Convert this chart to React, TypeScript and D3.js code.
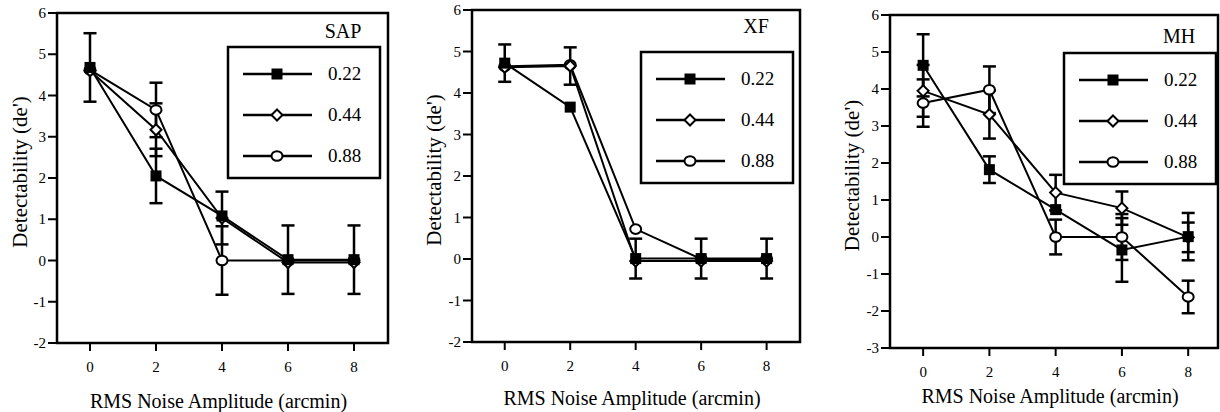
import * as d3 from "d3";

// noise amplitudes (arcmin)
const xValues = [0, 2, 4, 6, 8];
const seriesNames = ["0.22", "0.44", "0.88"];
const xTicks = [0, 2, 4, 6, 8];
const yTicksA = [-2, -1, 0, 1, 2, 3, 4, 5, 6];
const yTicksB = [-3, -2, -1, 0, 1, 2, 3, 4, 5, 6];

// SAP
const sap22 = [4.68, 2.05, 1.08, 0.02, 0.02];
const sap44 = [4.6, 3.17, 1.03, -0.05, -0.05];
const sap88 = [4.62, 3.65, 0.0, 0.0, 0.0];
const sap22Err = [0.83, 0.66, null, 0.83, 0.83];
const sap44Err = [null, 0.64, 0.64, null, null];
const sap88Err = [null, 0.66, 0.83, null, null];

// XF
const xf22 = [4.72, 3.66, 0.01, 0.01, 0.01];
const xf44 = [4.62, 4.65, -0.05, -0.05, -0.05];
const xf88 = [4.64, 4.68, 0.72, 0.0, 0.0];
const xf22Err = [0.45, null, 0.48, 0.48, 0.48];
const xf44Err = [null, 0.45, null, null, null];
const xf88Err = [null, null, null, null, null];

// MH
const mh22 = [4.64, 1.82, 0.74, -0.35, 0.01];
const mh44 = [3.95, 3.31, 1.2, 0.78, -0.01];
const mh88 = [3.62, 3.98, 0.0, 0.0, -1.62];
const mh22Err = [0.84, 0.36, null, 0.86, 0.64];
const mh44Err = [0.7, 0.65, 0.48, 0.45, 0.4];
const mh88Err = [0.64, 0.63, 0.47, 0.62, 0.44];

const FONT = "Liberation Serif, Times New Roman, DejaVu Serif, serif";

type Panel = {
  title: string;
  values: number[][];
  errors: (number | null)[][];
  yTicks: number[];
  left: number;
  right: number;
  top: number;
  bottom: number;
  xMax: number;
  legendX: number;
  legendY: number;
  titleY: number;
  yLabelX: number;
  xLabelY: number;
};

const panels: Panel[] = [
  {
    title: "SAP",
    values: [sap22, sap44, sap88],
    errors: [sap22Err, sap44Err, sap88Err],
    yTicks: yTicksA,
    left: 57, right: 388, top: 13, bottom: 343, xMax: 9.03,
    legendX: 228, legendY: 47, titleY: 38, yLabelX: 20, xLabelY: 408,
  },
  {
    title: "XF",
    values: [xf22, xf44, xf88],
    errors: [xf22Err, xf44Err, xf88Err],
    yTicks: yTicksA,
    left: 472, right: 800, top: 10, bottom: 342, xMax: 9.02,
    legendX: 641, legendY: 52, titleY: 33, yLabelX: 434, xLabelY: 405,
  },
  {
    title: "MH",
    values: [mh22, mh44, mh88],
    errors: [mh22Err, mh44Err, mh88Err],
    yTicks: yTicksB,
    left: 890, right: 1218, top: 15, bottom: 348, xMax: 8.9,
    legendX: 1064, legendY: 53, titleY: 43, yLabelX: 852, xLabelY: 403,
  },
];

function Marker({ kind, x, y }: { kind: number; x: number; y: number }) {
  if (kind === 0) {
    return <rect x={x - 5.5} y={y - 5.5} width={11} height={11} fill="#000" />;
  }
  if (kind === 1) {
    const s = 5.5;
    return (
      <path
        d={`M${x},${y - s}L${x + s},${y}L${x},${y + s}L${x - s},${y}Z`}
        fill="#fff"
        stroke="#000"
        strokeWidth={2}
      />
    );
  }
  return <ellipse cx={x} cy={y} rx={5.5} ry={4.8} fill="#fff" stroke="#000" strokeWidth={2} />;
}

function ChartPanel({ p }: { p: Panel }) {
  const x = d3.scaleLinear().domain([-1, p.xMax]).range([p.left, p.right]);
  const y = d3
    .scaleLinear()
    .domain([p.yTicks[0], p.yTicks[p.yTicks.length - 1]])
    .range([p.bottom, p.top]);
  const line = d3
    .line<number>()
    .x((_, i) => x(xValues[i]))
    .y((d) => y(d));
  const order = [2, 1, 0];

  return (
    <g>
      {/* frame */}
      <rect
        x={p.left}
        y={p.top}
        width={p.right - p.left}
        height={p.bottom - p.top}
        fill="none"
        stroke="#000"
        strokeWidth={2.5}
      />
      {p.yTicks.map((t) => (
        <g key={"y" + t}>
          <line x1={p.left - 9} x2={p.left} y1={y(t)} y2={y(t)} stroke="#000" strokeWidth={2} />
          <text x={p.left - 11} y={y(t) + 5} textAnchor="end" fontSize={15}>
            {t}
          </text>
        </g>
      ))}
      {xTicks.map((t) => (
        <g key={"x" + t}>
          <line x1={x(t)} x2={x(t)} y1={p.bottom} y2={p.bottom + 8} stroke="#000" strokeWidth={2} />
          <text x={x(t)} y={p.bottom + 29} textAnchor="middle" fontSize={15}>
            {t}
          </text>
        </g>
      ))}
      <text x={(p.left + p.right) / 2 - 4} y={p.xLabelY} textAnchor="middle" fontSize={20}>
        RMS Noise Amplitude (arcmin)
      </text>
      <text
        transform={`translate(${p.yLabelX},${(p.top + p.bottom) / 2 - 6}) rotate(-90)`}
        textAnchor="middle"
        dominantBaseline="central"
        fontSize={21}
      >
        Detectability (de')
      </text>

      {/* data lines */}
      {order.map((s) => (
        <path key={"l" + s} d={line(p.values[s]) || ""} fill="none" stroke="#000" strokeWidth={2} />
      ))}
      {/* error bars */}
      {order.map((s) =>
        p.errors[s].map((e, i) => {
          if (e == null) return null;
          const cx = x(xValues[i]);
          const hi = y(p.values[s][i] + e);
          const lo = y(p.values[s][i] - e);
          return (
            <g key={"e" + s + "-" + i} stroke="#000" strokeWidth={2.5}>
              <line x1={cx} x2={cx} y1={hi} y2={lo} />
              <line x1={cx - 6.5} x2={cx + 6.5} y1={hi} y2={hi} />
              <line x1={cx - 6.5} x2={cx + 6.5} y1={lo} y2={lo} />
            </g>
          );
        })
      )}
      {/* markers */}
      {order.map((s) =>
        p.values[s].map((v, i) => <Marker key={"m" + s + "-" + i} kind={s} x={x(xValues[i])} y={y(v)} />)
      )}

      {/* legend */}
      <text x={p.legendX + 115} y={p.titleY} textAnchor="middle" fontSize={20}>
        {p.title}
      </text>
      <rect
        x={p.legendX}
        y={p.legendY}
        width={152}
        height={131}
        fill="#fff"
        stroke="#000"
        strokeWidth={2.5}
      />
      {seriesNames.map((name, s) => {
        const ly = p.legendY + [27, 68, 109][s];
        return (
          <g key={"lg" + s}>
            <line
              x1={p.legendX + 15}
              x2={p.legendX + 84}
              y1={ly}
              y2={ly}
              stroke="#000"
              strokeWidth={2.5}
            />
            <Marker kind={s} x={p.legendX + 49} y={ly} />
            <text x={p.legendX + 100} y={ly + 6} fontSize={19}>
              {name}
            </text>
          </g>
        );
      })}
    </g>
  );
}

export default function App() {
  return (
    <svg
      width={1220}
      height={412}
      fontFamily={FONT}
      style={{ position: "absolute", left: 0, top: 0, background: "#fff" }}
    >
      {panels.map((p) => (
        <ChartPanel key={p.title} p={p} />
      ))}
    </svg>
  );
}
